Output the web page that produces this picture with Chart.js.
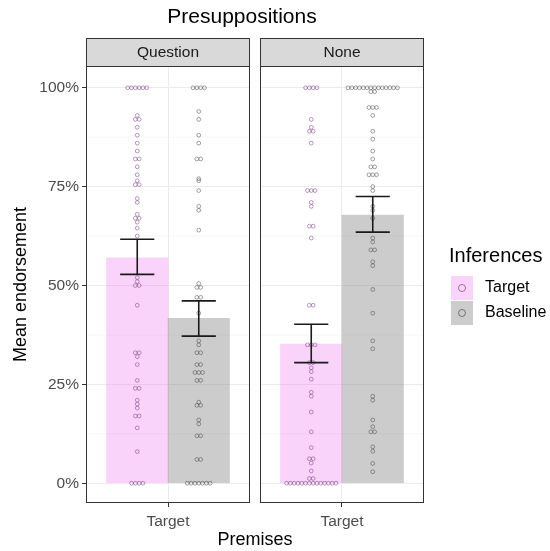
<!DOCTYPE html>
<html>
<head>
<meta charset="utf-8">
<script src="https://cdn.jsdelivr.net/npm/chart.js@4.4.1/dist/chart.umd.min.js"></script>
<style>
  html, body { margin: 0; padding: 0; background: #fff; }
  #wrap { width: 550px; height: 551px; }
</style>
</head>
<body>
<div id="wrap"><canvas id="myChart" width="550" height="551"></canvas></div>
<script>
// Data
const facets = ['Question', 'None'];
const inferences = ['Target', 'Baseline'];
const premiseLabel = 'Target';
const tickValues = [0, 0.25, 0.5, 0.75, 1];
const minorTickValues = [0.125, 0.375, 0.625, 0.875];

const meanQuestion = [0.570, 0.417];
const lowQuestion = [0.528, 0.372];
const highQuestion = [0.617, 0.461];
const meanNone = [0.352, 0.678];
const lowNone = [0.305, 0.635];
const highNone = [0.402, 0.725];

const questionTarget = [1, 1, 1, 1, 1, 1, 0.93, 0.92, 0.92, 0.90, 0.88, 0.86, 0.84, 0.82, 0.82,
    0.80, 0.78, 0.765, 0.755, 0.755, 0.72, 0.71, 0.68, 0.67, 0.67, 0.66, 0.645, 0.625,
    0.52, 0.51, 0.50, 0.50, 0.45, 0.33, 0.33, 0.32, 0.30, 0.26, 0.24, 0.24,
    0.21, 0.20, 0.19, 0.17, 0.17, 0.14, 0.08, 0, 0, 0, 0];
const questionBaseline = [1, 1, 1, 1, 0.94, 0.92, 0.88, 0.86, 0.82, 0.82, 0.77, 0.765, 0.74,
    0.70, 0.69, 0.64, 0.505, 0.495, 0.495, 0.47, 0.47, 0.43, 0.36, 0.35, 0.33, 0.33,
    0.30, 0.30, 0.28, 0.28, 0.28, 0.26, 0.26, 0.205, 0.197, 0.197, 0.16, 0.15,
    0.12, 0.12, 0.06, 0.06, 0, 0, 0, 0, 0, 0, 0];
const noneTarget = [1, 1, 1, 1, 0.92, 0.90, 0.89, 0.89, 0.86, 0.74, 0.74, 0.74, 0.71, 0.70,
    0.65, 0.65, 0.62, 0.45, 0.45, 0.35, 0.35, 0.35, 0.305, 0.305, 0.292, 0.282, 0.263,
    0.23, 0.22, 0.18, 0.13, 0.09, 0.062, 0.062, 0.051, 0.031, 0.012, 0.012,
    0, 0, 0, 0, 0, 0, 0, 0, 0, 0, 0, 0, 0, 0];
const noneBaseline = [1, 1, 1, 1, 1, 1, 1, 1, 1, 1, 1, 1, 1, 1, 0.99, 0.99, 0.95, 0.95, 0.95,
    0.93, 0.89, 0.87, 0.84, 0.82, 0.80, 0.80, 0.78, 0.78, 0.78, 0.75, 0.74, 0.70, 0.69, 0.67,
    0.62, 0.61, 0.59, 0.59, 0.56, 0.55, 0.49, 0.43, 0.36, 0.34, 0.22, 0.21, 0.16, 0.143,
    0.13, 0.13, 0.092, 0.081, 0.05, 0.029];

// Geometry of the facets (x units: one panel spans 1.2 units around its category)
const PX_PER_UNIT_X = 136.67;
const GAP = 10 / PX_PER_UNIT_X;
const PANEL_SHIFT = 1.2 + GAP;
const DODGE = 0.225;
const BAR_WIDTH = 0.45;
const CAP = 0.125;
const DOT_PX = 3.8;

const pink = 'rgba(238, 130, 238, 0.35)';
const grey = 'rgba(127, 127, 127, 0.4)';
const pinkDot = 'rgba(120, 60, 130, 0.65)';
const greyDot = 'rgba(60, 60, 60, 0.6)';
const FONT = "'Liberation Sans', Arial, sans-serif";

Chart.defaults.font.family = FONT;

// dot-plot style: equal values sit side by side, centred on the group
function dotRows(values, centre) {
    const counts = new Map();
    values.forEach(v => counts.set(v, (counts.get(v) || 0) + 1));
    const pts = [];
    counts.forEach((n, v) => {
        for (let i = 0; i < n; i++) {
            pts.push({ x: centre + (i - (n - 1) / 2) * DOT_PX / PX_PER_UNIT_X, y: v });
        }
    });
    return pts;
}

const panelCentre = k => 1 + k * PANEL_SHIFT;

const pointSets = [
    [questionTarget, panelCentre(0) - DODGE, pinkDot],
    [questionBaseline, panelCentre(0) + DODGE, greyDot],
    [noneTarget, panelCentre(1) - DODGE, pinkDot],
    [noneBaseline, panelCentre(1) + DODGE, greyDot]
].map(([vals, c, col]) => ({
    type: 'scatter',
    data: dotRows(vals, c),
    pointRadius: 1.9,
    pointBorderWidth: 0.8,
    pointBorderColor: col,
    pointBackgroundColor: 'rgba(0,0,0,0)',
    order: 1
}));

const barSets = [
    {
        type: 'bar',
        label: inferences[0],
        data: [{ x: panelCentre(0) - DODGE, y: meanQuestion[0] }, { x: panelCentre(1) - DODGE, y: meanNone[0] }],
        backgroundColor: pink,
        barThickness: BAR_WIDTH * PX_PER_UNIT_X,
        grouped: false,
        order: 3
    },
    {
        type: 'bar',
        label: inferences[1],
        data: [{ x: panelCentre(0) + DODGE, y: meanQuestion[1] }, { x: panelCentre(1) + DODGE, y: meanNone[1] }],
        backgroundColor: grey,
        barThickness: BAR_WIDTH * PX_PER_UNIT_X,
        grouped: false,
        order: 3
    }
];

const facetPlugin = {
    id: 'facets',
    beforeDatasetsDraw(chart) {
        const { ctx, chartArea, scales: { x, y } } = chart;
        ctx.save();
        // minor grid
        ctx.strokeStyle = '#ebebeb';
        ctx.lineWidth = 0.5;
        minorTickValues.forEach(v => {
            const py = y.getPixelForValue(v);
            ctx.beginPath();
            ctx.moveTo(chartArea.left, py);
            ctx.lineTo(chartArea.right, py);
            ctx.stroke();
        });
        // gap between panels
        const g0 = x.getPixelForValue(1.6);
        const g1 = x.getPixelForValue(0.4 + PANEL_SHIFT);
        ctx.fillStyle = '#fff';
        ctx.fillRect(g0, chartArea.top - 1, g1 - g0, chartArea.bottom - chartArea.top + 2);
        ctx.restore();
    },
    afterDatasetsDraw(chart) {
        const { ctx, chartArea, scales: { x, y } } = chart;
        ctx.save();
        // error bars
        const panels = [[meanQuestion, lowQuestion, highQuestion], [meanNone, lowNone, highNone]];
        ctx.strokeStyle = '#1a1a1a';
        ctx.lineWidth = 1.6;
        panels.forEach(([m, lo, hi], k) => {
            [-DODGE, DODGE].forEach((d, i) => {
                const cx = panelCentre(k) + d;
                const px = x.getPixelForValue(cx);
                const pl = x.getPixelForValue(cx - CAP);
                const pr = x.getPixelForValue(cx + CAP);
                const yl = y.getPixelForValue(lo[i]);
                const yh = y.getPixelForValue(hi[i]);
                ctx.beginPath();
                ctx.moveTo(px, yl); ctx.lineTo(px, yh);
                ctx.moveTo(pl, yl); ctx.lineTo(pr, yl);
                ctx.moveTo(pl, yh); ctx.lineTo(pr, yh);
                ctx.stroke();
            });
        });
        // panel borders and strips
        facets.forEach((name, k) => {
            const l = Math.round(x.getPixelForValue(0.4 + k * PANEL_SHIFT)) + 0.5;
            const r = Math.round(x.getPixelForValue(1.6 + k * PANEL_SHIFT)) - 0.5;
            const t = Math.round(chartArea.top) + 0.5;
            const b = Math.round(chartArea.bottom) - 0.5;
            ctx.strokeStyle = '#333';
            ctx.lineWidth = 1;
            ctx.strokeRect(l, t, r - l, b - t);
            ctx.fillStyle = '#d9d9d9';
            ctx.fillRect(l, t - 28, r - l, 28);
            ctx.strokeRect(l, t - 28, r - l, 28);
            ctx.fillStyle = '#1a1a1a';
            ctx.font = '15.5px ' + FONT;
            ctx.textAlign = 'center';
            ctx.textBaseline = 'middle';
            ctx.fillText(name, (l + r) / 2, t - 13.5);
        });
        ctx.restore();
    },
    afterDraw(chart) {
        const { ctx } = chart;
        ctx.save();
        ctx.fillStyle = '#000';
        ctx.textBaseline = 'middle';
        ctx.textAlign = 'center';
        ctx.font = '21px ' + FONT;
        ctx.fillText('Presuppositions', 242, 17);
        // legend
        ctx.textAlign = 'left';
        ctx.font = '20px ' + FONT;
        ctx.fillText('Inferences', 449, 256);
        const keys = [[pink, pinkDot], [grey, greyDot]];
        ctx.font = '16px ' + FONT;
        keys.forEach(([fill, dot], i) => {
            const top = 276 + i * 25;
            ctx.fillStyle = fill;
            ctx.fillRect(451, top, 22, 24);
            ctx.beginPath();
            ctx.arc(462, top + 12, 3.5, 0, Math.PI * 2);
            ctx.strokeStyle = dot;
            ctx.lineWidth = 1;
            ctx.stroke();
            ctx.fillStyle = '#000';
            ctx.fillText(inferences[i], 485, top + 12);
        });
        ctx.restore();
    }
};

new Chart(document.getElementById('myChart'), {
    type: 'bar',
    data: { datasets: [...pointSets, ...barSets] },
    options: {
        responsive: false,
        animation: false,
        events: [],
        layout: { padding: { left: 8, right: 126, top: 66, bottom: 0 } },
        plugins: { legend: { display: false }, tooltip: { enabled: false }, title: { display: false } },
        scales: {
            x: {
                type: 'linear',
                offset: false,
                min: 0.4,
                max: 1.6 + PANEL_SHIFT,
                afterBuildTicks: s => { s.ticks = facets.map((f, k) => ({ value: panelCentre(k) })); },
                afterFit: s => { s.height = 48; },
                ticks: {
                    callback: () => premiseLabel,
                    autoSkip: false,
                    maxRotation: 0,
                    color: '#4d4d4d',
                    font: { size: 15.5 },
                    padding: 5
                },
                grid: { offset: false, color: '#ebebeb', tickColor: '#333', tickLength: 4, lineWidth: 1 },
                border: { display: false },
                title: { display: true, text: 'Premises', color: '#000', font: { size: 18 }, padding: { top: 0, bottom: 0 } }
            },
            y: {
                type: 'linear',
                min: -0.05,
                max: 1.055,
                afterBuildTicks: s => { s.ticks = tickValues.map(v => ({ value: v })); },
                afterFit: s => { s.width = 78; },
                ticks: {
                    callback: v => Math.round(v * 100) + '%',
                    color: '#4d4d4d',
                    font: { size: 15.5 },
                    padding: 3
                },
                grid: { color: '#ebebeb', tickColor: '#333', tickLength: 4, lineWidth: 1 },
                border: { display: false },
                title: { display: true, text: 'Mean endorsement', color: '#000', font: { size: 18 }, padding: { top: 2, bottom: 0 } }
            }
        }
    },
    plugins: [facetPlugin]
});
</script>
</body>
</html>
